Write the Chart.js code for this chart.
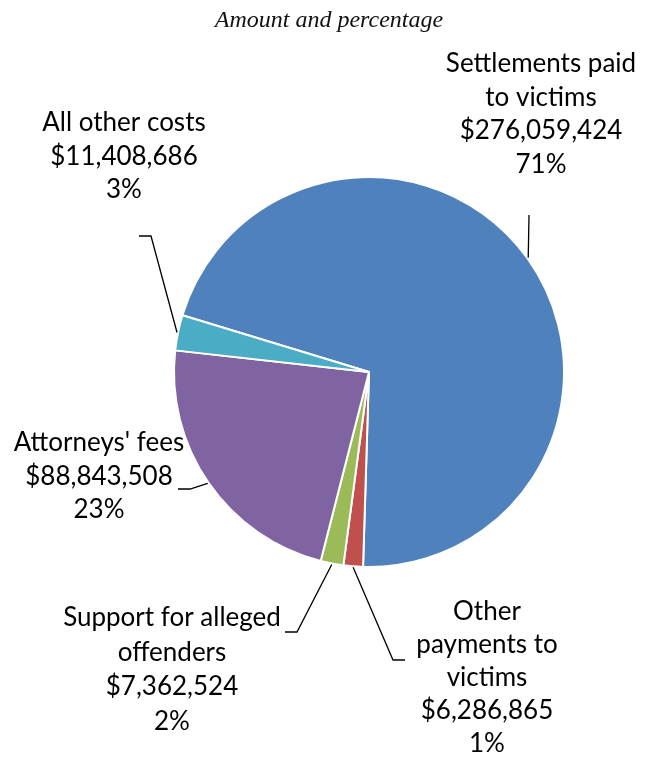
<!DOCTYPE html>
<html>
<head>
<meta charset="utf-8">
<script src="https://cdn.jsdelivr.net/npm/chart.js@4.4.0/dist/chart.umd.min.js"></script>
<style>
  html, body { margin: 0; padding: 0; background: #ffffff; }
  #wrap { width: 654px; height: 757px; position: relative; }
</style>
</head>
<body>
<div id="wrap"><canvas id="c" width="654" height="757"></canvas></div>
<script>
// ---- data ----
const categories = ["Settlements paid to victims", "Other payments to victims", "Support for alleged offenders", "Attorneys' fees", "All other costs"];
const amounts = [276059424, 6286865, 7362524, 88843508, 11408686];
const amountLabels = ["$276,059,424", "$6,286,865", "$7,362,524", "$88,843,508", "$11,408,686"];
const percentLabels = ["71%", "1%", "2%", "23%", "3%"];
const colors = ["#4F81BD", "#C0504D", "#9BBB59", "#8064A2", "#4BACC6"];
const titleText = "Amount and percentage";

// ---- label layout (how each category name wraps, where the block sits) ----
const nameLines = [
  ["Settlements paid", "to victims"],
  ["Other", "payments to", "victims"],
  ["Support for alleged", "offenders"],
  ["Attorneys' fees"],
  ["All other costs"]
];
const labelLayout = [
  { cx: 541, top: 64, lh: 33.5, leader: [[529, 215]] },
  { cx: 487, top: 612, lh: 33, leader: [[405, 660], [393, 660]] },
  { cx: 172, top: 618, lh: 34.5, leader: [[285, 632], [297, 632]] },
  { cx: 99, top: 443, lh: 33.5, leader: [[178, 489], [190, 489]] },
  { cx: 124, top: 123, lh: 33.5, leader: [[139, 236], [151, 236]] }
];

const labelFont = "26px Lato";

const labelsPlugin = {
  id: 'labelsPlugin',
  afterDraw(chart) {
    const ctx = chart.ctx;
    const meta = chart.getDatasetMeta(0);
    ctx.save();
    // title
    ctx.fillStyle = '#111';
    ctx.font = 'italic 24px "Liberation Serif"';
    ctx.textAlign = 'center';
    ctx.textBaseline = 'alphabetic';
    ctx.fillText(titleText, 329, 27);

    meta.data.forEach((arc, i) => {
      const p = arc.getProps(['x', 'y', 'startAngle', 'endAngle', 'outerRadius'], true);
      const mid = (p.startAngle + p.endAngle) / 2;
      const r = p.outerRadius + 1;
      const ex = p.x + Math.cos(mid) * r;
      const ey = p.y + Math.sin(mid) * r;
      const L = labelLayout[i];
      // leader line
      ctx.beginPath();
      ctx.strokeStyle = '#000';
      ctx.lineWidth = 1.3;
      ctx.moveTo(L.leader[0][0], L.leader[0][1]);
      for (let k = 1; k < L.leader.length; k++) ctx.lineTo(L.leader[k][0], L.leader[k][1]);
      ctx.lineTo(ex, ey);
      ctx.stroke();
      // text
      const lines = nameLines[i].concat([amountLabels[i], percentLabels[i]]);
      ctx.fillStyle = '#000';
      ctx.font = labelFont;
      ctx.textAlign = 'center';
      ctx.textBaseline = 'middle';
      lines.forEach((t, j) => ctx.fillText(t, L.cx, L.top + j * L.lh));
    });
    ctx.restore();
  }
};

new Chart(document.getElementById('c'), {
  type: 'pie',
  data: {
    labels: categories,
    datasets: [{
      data: amounts,
      backgroundColor: colors,
      borderColor: '#ffffff',
      borderWidth: 2
    }]
  },
  options: {
    responsive: false,
    animation: false,
    rotation: -73.1,
    layout: { padding: { left: 173, right: 89, top: 176, bottom: 189 } },
    plugins: {
      legend: { display: false },
      title: { display: false },
      tooltip: { enabled: false }
    }
  },
  plugins: [labelsPlugin]
});
</script>
</body>
</html>
